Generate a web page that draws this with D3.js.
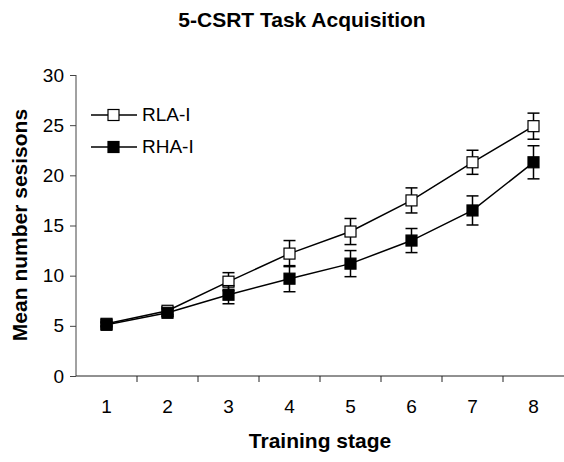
<!DOCTYPE html>
<html>
<head>
<meta charset="utf-8">
<script src="https://cdn.jsdelivr.net/npm/d3@7"></script>
<style>
body { margin: 0; background: #fff; }
text { font-family: "Liberation Sans", Arial, sans-serif; }
</style>
</head>
<body>
<div id="chart"></div>
<script>
// data
var stages = [1, 2, 3, 4, 5, 6, 7, 8];
var rlaMean = [5.2, 6.5, 9.4, 12.2, 14.4, 17.5, 21.3, 24.9];
var rlaSem = [0.2, 0.4, 0.9, 1.3, 1.3, 1.25, 1.2, 1.3];
var rhaMean = [5.1, 6.3, 8.1, 9.7, 11.2, 13.5, 16.5, 21.3];
var rhaSem = [0.2, 0.4, 0.9, 1.3, 1.3, 1.2, 1.45, 1.65];
var yTicks = [0, 5, 10, 15, 20, 25, 30];

var width = 564,
	height = 462;

var svg = d3.select('#chart')
	.append('svg')
	.attr('width', width)
	.attr('height', height);

var x = d3.scaleBand().domain(stages).range([76, 564]);
var y = d3.scaleLinear().domain([0, 30]).range([376, 75]);

// title
svg.append('text')
	.attr('x', 302).attr('y', 27)
	.attr('text-anchor', 'middle')
	.style('font-size', '21px').style('font-weight', 'bold')
	.text('5-CSRT Task Acquisition');

// y axis
var yAxis = svg.append('g')
	.attr('transform', 'translate(76,0)')
	.call(d3.axisLeft(y).tickValues(yTicks).tickSize(6).tickPadding(6));
yAxis.selectAll('text').style('font-size', '19px').attr('fill', '#000');
yAxis.selectAll('line,path').attr('stroke', '#444');
yAxis.select('.domain').attr('d', 'M0,75V376');

// x axis, ticks sit between categories
var xAxis = svg.append('g').attr('transform', 'translate(0,376)');
xAxis.append('line')
	.attr('x1', 76).attr('x2', 564)
	.attr('stroke', '#222');
xAxis.selectAll('.tk')
	.data(stages.slice(1))
	.enter().append('line')
	.attr('x1', function(d) { return x(d); })
	.attr('x2', function(d) { return x(d); })
	.attr('y1', 0).attr('y2', 6)
	.attr('stroke', '#222');
xAxis.selectAll('.lbl')
	.data(stages)
	.enter().append('text')
	.attr('x', function(d) { return x(d) + x.bandwidth() / 2; })
	.attr('y', 37)
	.attr('text-anchor', 'middle')
	.style('font-size', '19px')
	.text(function(d) { return d; });

// axis titles
svg.append('text')
	.attr('x', 320).attr('y', 448)
	.attr('text-anchor', 'middle')
	.style('font-size', '21px').style('font-weight', 'bold')
	.text('Training stage');
svg.append('text')
	.attr('transform', 'translate(27,225) rotate(-90)')
	.attr('text-anchor', 'middle')
	.style('font-size', '21px').style('font-weight', 'bold')
	.text('Mean number sesisons');

function cx(d, i) { return x(stages[i]) + x.bandwidth() / 2; }

function drawSeries(mean, sem, fill) {
	var g = svg.append('g');
	var line = d3.line()
		.x(function(d, i) { return cx(d, i); })
		.y(function(d) { return y(d); });
	g.append('path')
		.datum(mean)
		.attr('d', line)
		.attr('fill', 'none')
		.attr('stroke', '#000')
		.attr('stroke-width', 1.5);
	var eb = g.selectAll('.err')
		.data(mean)
		.enter().append('g');
	eb.append('line')
		.attr('x1', cx).attr('x2', cx)
		.attr('y1', function(d, i) { return y(d + sem[i]); })
		.attr('y2', function(d, i) { return y(d - sem[i]); })
		.attr('stroke', '#000').attr('stroke-width', 1.5);
	[1, -1].forEach(function(s) {
		eb.append('line')
			.attr('x1', function(d, i) { return cx(d, i) - 6; })
			.attr('x2', function(d, i) { return cx(d, i) + 6; })
			.attr('y1', function(d, i) { return y(d + s * sem[i]); })
			.attr('y2', function(d, i) { return y(d + s * sem[i]); })
			.attr('stroke', '#000').attr('stroke-width', 1.5);
	});
	g.selectAll('.pt')
		.data(mean)
		.enter().append('rect')
		.attr('x', function(d, i) { return cx(d, i) - 5.5; })
		.attr('y', function(d) { return y(d) - 5.5; })
		.attr('width', 11).attr('height', 11)
		.attr('fill', fill)
		.attr('stroke', '#000').attr('stroke-width', 1.2);
}

drawSeries(rlaMean, rlaSem, '#fff');
drawSeries(rhaMean, rhaSem, '#000');

// legend
var legend = [['RLA-I', '#fff', 115], ['RHA-I', '#000', 147]];
legend.forEach(function(l) {
	svg.append('line')
		.attr('x1', 91).attr('x2', 137)
		.attr('y1', l[2]).attr('y2', l[2])
		.attr('stroke', '#000').attr('stroke-width', 1.5);
	svg.append('rect')
		.attr('x', 108).attr('y', l[2] - 5.5)
		.attr('width', 11).attr('height', 11)
		.attr('fill', l[1])
		.attr('stroke', '#000').attr('stroke-width', 1.2);
	svg.append('text')
		.attr('x', 142).attr('y', l[2] + 6)
		.style('font-size', '19px')
		.text(l[0]);
});
</script>
</body>
</html>
